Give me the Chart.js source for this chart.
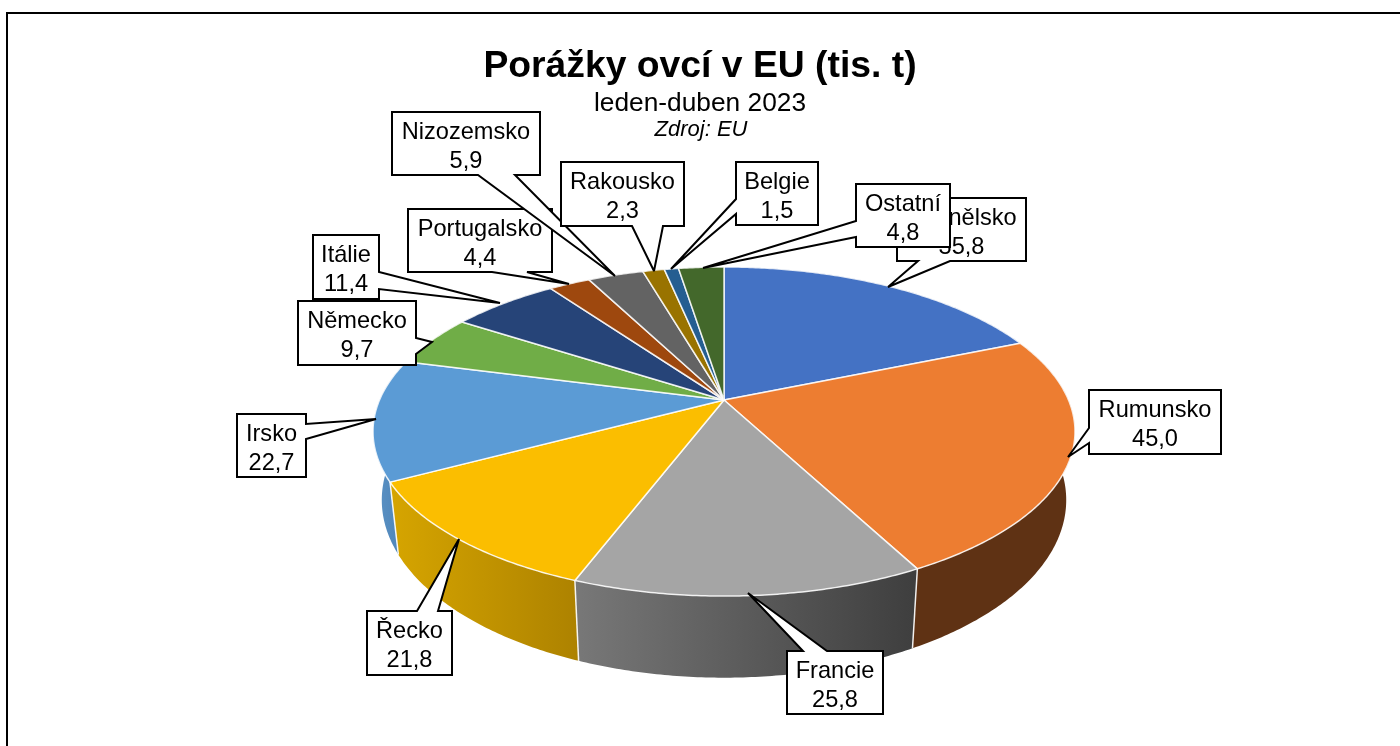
<!DOCTYPE html>
<html>
<head>
<meta charset="utf-8">
<title>Porážky ovcí v EU</title>
<script src="https://cdn.jsdelivr.net/npm/chart.js@4/dist/chart.umd.min.js"></script>
<style>
  html, body { margin: 0; padding: 0; background: #fff; overflow: hidden; }
  canvas { display: block; }
</style>
</head>
<body>
<canvas id="chart" width="1400" height="746"></canvas>
<script>
const categories = ["Španělsko", "Rumunsko", "Francie", "Řecko", "Irsko", "Německo", "Itálie", "Portugalsko", "Nizozemsko", "Rakousko", "Belgie", "Ostatní"];
const values = [35.8, 45.0, 25.8, 21.8, 22.7, 9.7, 11.4, 4.4, 5.9, 2.3, 1.5, 4.8];
const colors = ["#4472C4", "#ED7D31", "#A5A5A5", "#FBBE00", "#5B9BD5", "#70AD47", "#264478", "#9E480E", "#636363", "#997300", "#255E91", "#43682B"];
const wallLeft = ["#2f5597", "#5f3214", "#787878", "#d6a500", "#5b93c6", "#4e7a32", "#1a3054", "#6e320a", "#454545", "#6b5000", "#1a4265", "#2f491e"];
const wallRight = ["#2f5597", "#5f3214", "#3e3e3e", "#ad8200", "#4a7fb2", "#4e7a32", "#1a3054", "#6e320a", "#454545", "#6b5000", "#1a4265", "#2f491e"];

// callout boxes [left, top, right, bottom], wedge base on one side, wedge tip
const callouts = [
  { box: [897, 198, 1026, 261], side: "bottom", base: [918, 950], tip: [888, 287] },
  { box: [1089, 390, 1221, 454], side: "left", base: [428, 443], tip: [1068, 457] },
  { box: [787, 651, 883, 714], side: "top", base: [803, 827], tip: [748, 593] },
  { box: [367, 611, 452, 675], side: "top", base: [417, 438], tip: [459, 539] },
  { box: [237, 414, 306, 477], side: "right", base: [424, 439], tip: [376, 419] },
  { box: [298, 301, 416, 365], side: "right", base: [338, 354], tip: [432, 342] },
  { box: [313, 235, 379, 299], side: "right", base: [272, 289], tip: [500, 303] },
  { box: [408, 209, 552, 272], side: "bottom", base: [492, 527], tip: [569, 284] },
  { box: [392, 112, 540, 175], side: "bottom", base: [478, 515], tip: [615, 276] },
  { box: [561, 162, 684, 226], side: "bottom", base: [632, 663], tip: [654, 271] },
  { box: [736, 162, 818, 225], side: "left", base: [199, 214], tip: [671, 269] },
  { box: [856, 184, 950, 247], side: "left", base: [221, 237], tip: [703, 268] }
];
// Itálie sits under Německo, so the drawing order follows the data order with Německo after Itálie
const calloutOrder = [0, 1, 2, 3, 4, 6, 5, 7, 8, 9, 10, 11];

// perspective of the tilted disc: apex, half axes, tilt, extrusion
const view = { x: 724, y: 400, a: 344.5, b: 158.5, k: 0.1915, depth: 66, shrink: 0.975 };

function project(angle, lower) {
  const u = Math.cos(angle);
  const v = Math.sin(angle);
  const w = 1 - view.k * v;
  const dx = view.a * u / w;
  const dy = view.b * v / w;
  if (lower) {
    return [view.x + dx * view.shrink, view.y + dy + view.depth / w];
  }
  return [view.x + dx, view.y + dy];
}

function rim(start, end) {
  const steps = Math.max(2, Math.ceil((end - start) / 0.01));
  const angles = [];
  for (let i = 0; i <= steps; i++) {
    angles.push(start + (end - start) * i / steps);
  }
  return angles;
}

const pie3d = {
  id: "pie3d",
  beforeDatasetDraw(chart) {
    const ctx = chart.ctx;
    const arcs = chart.getDatasetMeta(0).data;

    ctx.save();
    ctx.lineJoin = "round";

    // side walls, only the part of each slice facing the viewer side
    arcs.forEach((arc, i) => {
      const angles = rim(arc.startAngle, arc.endAngle);
      const top = angles.map(a => project(a, false));
      const bottom = angles.map(a => project(a, true));
      const xs = top.concat(bottom).map(p => p[0]);
      const grad = ctx.createLinearGradient(Math.min(...xs), 0, Math.max(...xs), 0);
      grad.addColorStop(0, wallLeft[i]);
      grad.addColorStop(1, wallRight[i]);
      ctx.beginPath();
      top.forEach((p, n) => n ? ctx.lineTo(p[0], p[1]) : ctx.moveTo(p[0], p[1]));
      bottom.reverse().forEach(p => ctx.lineTo(p[0], p[1]));
      ctx.closePath();
      ctx.fillStyle = grad;
      ctx.fill();
    });

    // light seams on the front of the wall
    arcs.forEach(arc => {
      const a = arc.endAngle;
      if (Math.sin(a) < 0.1) return;
      const p = project(a, false);
      const q = project(a, true);
      ctx.beginPath();
      ctx.moveTo(p[0], p[1]);
      ctx.lineTo(q[0], q[1]);
      ctx.strokeStyle = "rgba(255,255,255,0.9)";
      ctx.lineWidth = 1.5;
      ctx.stroke();
    });

    // top face
    arcs.forEach((arc, i) => {
      ctx.beginPath();
      ctx.moveTo(view.x, view.y);
      rim(arc.startAngle, arc.endAngle).forEach(a => {
        const p = project(a, false);
        ctx.lineTo(p[0], p[1]);
      });
      ctx.closePath();
      ctx.fillStyle = colors[i];
      ctx.fill();
      ctx.strokeStyle = "rgba(255,255,255,0.85)";
      ctx.lineWidth = 1.5;
      ctx.stroke();
    });

    ctx.restore();
    return false;
  },
  afterDraw(chart) {
    const ctx = chart.ctx;
    ctx.save();

    // frame, the right and bottom sides are cut off in the source
    ctx.strokeStyle = "#000";
    ctx.lineWidth = 2;
    ctx.beginPath();
    ctx.moveTo(7, 746);
    ctx.lineTo(7, 13);
    ctx.lineTo(1400, 13);
    ctx.stroke();

    ctx.fillStyle = "#000";
    ctx.textAlign = "center";
    ctx.textBaseline = "alphabetic";
    ctx.font = "italic 22px 'Liberation Sans'";
    ctx.fillText("Zdroj: EU", 701, 136);

    calloutOrder.forEach(i => {
      const c = callouts[i];
      const [l, t, r, b] = c.box;
      ctx.beginPath();
      ctx.moveTo(l, t);
      if (c.side === "top") {
        ctx.lineTo(c.base[0], t);
        ctx.lineTo(c.tip[0], c.tip[1]);
        ctx.lineTo(c.base[1], t);
      }
      ctx.lineTo(r, t);
      if (c.side === "right") {
        ctx.lineTo(r, c.base[0]);
        ctx.lineTo(c.tip[0], c.tip[1]);
        ctx.lineTo(r, c.base[1]);
      }
      ctx.lineTo(r, b);
      if (c.side === "bottom") {
        ctx.lineTo(c.base[1], b);
        ctx.lineTo(c.tip[0], c.tip[1]);
        ctx.lineTo(c.base[0], b);
      }
      ctx.lineTo(l, b);
      if (c.side === "left") {
        ctx.lineTo(l, c.base[1]);
        ctx.lineTo(c.tip[0], c.tip[1]);
        ctx.lineTo(l, c.base[0]);
      }
      ctx.closePath();
      ctx.fillStyle = "#fff";
      ctx.fill();
      ctx.strokeStyle = "#000";
      ctx.lineWidth = 2;
      ctx.lineJoin = "miter";
      ctx.miterLimit = 3;
      ctx.stroke();

      ctx.fillStyle = "#000";
      ctx.font = "23.6px 'Liberation Sans'";
      const mid = (l + r) / 2;
      ctx.fillText(categories[i], mid, t + 27);
      ctx.fillText(values[i].toFixed(1).replace(".", ","), mid, t + 56);
    });

    ctx.restore();
  }
};

new Chart(document.getElementById("chart"), {
  type: "pie",
  data: {
    labels: categories,
    datasets: [{ data: values, backgroundColor: colors }]
  },
  options: {
    responsive: false,
    animation: false,
    plugins: {
      legend: { display: false },
      tooltip: { enabled: false },
      title: {
        display: true,
        text: "Porážky ovcí v EU (tis. t)",
        color: "#000",
        font: { family: "'Liberation Sans'", size: 37.3, weight: "bold", lineHeight: 1.15 },
        padding: { top: 45, bottom: 0 }
      },
      subtitle: {
        display: true,
        text: "leden-duben 2023",
        color: "#000",
        font: { family: "'Liberation Sans'", size: 26.3, lineHeight: 1.15 },
        padding: { top: 1, bottom: 0 }
      }
    }
  },
  plugins: [pie3d]
});
</script>
</body>
</html>
